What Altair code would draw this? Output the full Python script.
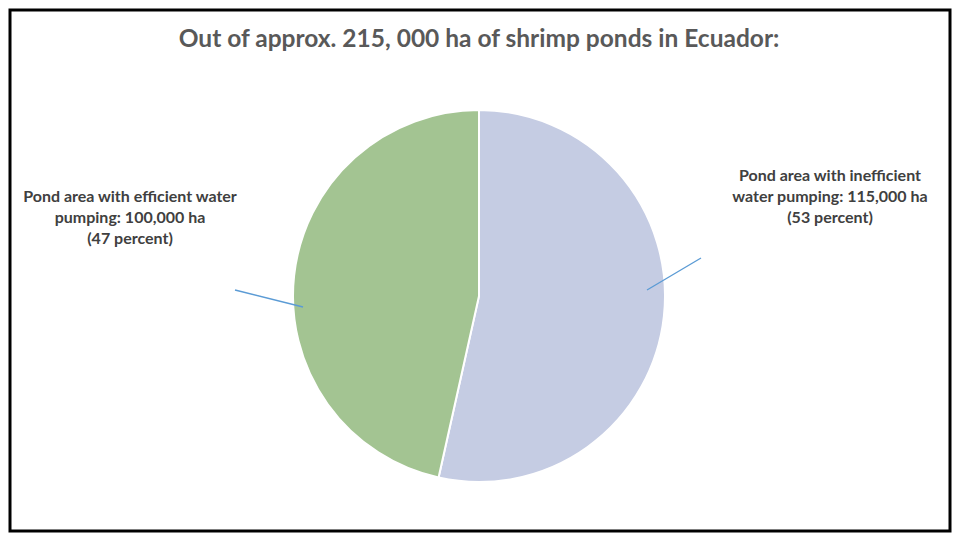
import altair as alt
import pandas as pd

# Data
categories = ["Pond area with inefficient water pumping", "Pond area with efficient water pumping"]
areas_ha = [115000, 100000]
percents = [53, 47]
label_texts = [
    "Pond area with inefficient\nwater pumping: 115,000 ha\n(53 percent)",
    "Pond area with efficient water\npumping: 100,000 ha\n(47 percent)",
]
slice_colors = ["#C5CCE3", "#A3C492"]
title_text = "Out of approx. 215, 000 ha of shrimp ponds in Ecuador:"

PAD = 2
W, H = 944 - 2 * PAD, 525 - 2 * PAD
CX, CY, R = 471 - PAD, 288 - PAD, 186

pie_df = pd.DataFrame({
    "category": categories,
    "area": areas_ha,
    "order": list(range(len(categories))),
})

pie = alt.Chart(pie_df).mark_arc(radius=R, stroke="white", strokeWidth=2).encode(
    theta=alt.Theta("area:Q", stack=True),
    order=alt.Order("order:Q"),
    color=alt.Color("category:N", scale=alt.Scale(domain=categories, range=slice_colors), legend=None),
    x=alt.value(CX),
    y=alt.value(CY),
)

title = alt.Chart(pd.DataFrame({"t": [title_text]})).mark_text(
    font="Lato", fontSize=24.5, fontWeight="bold", color="#595959", align="center", baseline="middle"
).encode(text="t:N", x=alt.value(471 - PAD), y=alt.value(32 - PAD))

label_style = dict(font="Lato", fontSize=16, fontWeight="bold", color="#404040",
                   align="center", baseline="middle", lineBreak="\n", lineHeight=21)

lab_right = alt.Chart(pd.DataFrame({"t": [label_texts[0]]})).mark_text(**label_style).encode(
    text="t:N", x=alt.value(822 - PAD), y=alt.value(168 - PAD))
lab_left = alt.Chart(pd.DataFrame({"t": [label_texts[1]]})).mark_text(**label_style).encode(
    text="t:N", x=alt.value(122 - PAD), y=alt.value(189 - PAD))

line_style = dict(color="#5B9BD5", strokeWidth=1.3)
lead_right = alt.Chart(pd.DataFrame({"a": [0]})).mark_rule(**line_style).encode(
    x=alt.value(639 - PAD), y=alt.value(282 - PAD), x2=alt.value(693 - PAD), y2=alt.value(250 - PAD))
lead_left = alt.Chart(pd.DataFrame({"a": [0]})).mark_rule(**line_style).encode(
    x=alt.value(227 - PAD), y=alt.value(282 - PAD), x2=alt.value(295 - PAD), y2=alt.value(299 - PAD))

chart = alt.layer(pie, lead_left, lead_right, title, lab_left, lab_right).properties(
    width=W, height=H, padding=PAD, autosize=alt.AutoSizeParams(type="none"),
    background="white",
).configure_view(stroke="black", strokeWidth=3)

chart.save("out.html", embed_options={"renderer": "svg", "actions": False})
